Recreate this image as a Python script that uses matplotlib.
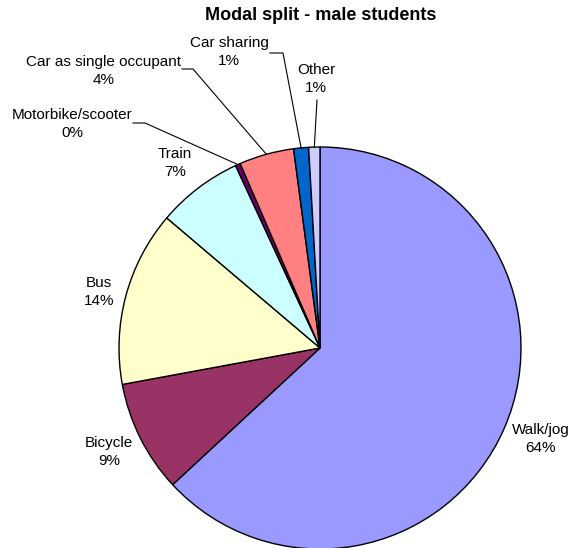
import numpy as np
import matplotlib.pyplot as plt

plt.rcParams['font.family'] = ['Liberation Sans', 'DejaVu Sans']

modes = ['Walk/jog', 'Bicycle', 'Bus', 'Train', 'Motorbike/scooter',
         'Car as single occupant', 'Car sharing', 'Other']
shares = [63.1, 9.0, 14.1, 6.9, 0.4, 4.4, 1.2, 0.9]
pct_labels = ['64%', '9%', '14%', '7%', '0%', '4%', '1%', '1%']
colors = ['#9999FF', '#993366', '#FFFFCC', '#CCFFFF', '#660066',
          '#FF8080', '#0066CC', '#CCCCFF']

W, H = 573, 548
fig = plt.figure(figsize=(W / 100, H / 100), dpi=100)
ax = fig.add_axes([0, 0, 1, 1])


def Y(py):
    return H - py


cx, cy, r = 320, Y(348), 201
wedges, _ = ax.pie(shares, colors=colors, startangle=90, counterclock=False,
                   center=(cx, cy), radius=r, frame=True,
                   wedgeprops=dict(edgecolor='black', linewidth=1.0))
ax.set_xlim(0, W)
ax.set_ylim(0, H)
ax.set_aspect('equal')
ax.axis('off')

# label positions (px from top-left) and leader elbows
label_pos = [(541, 439), (109, 452), (99, 292), (175, 163), (72, 124),
             (104, 71), (229, 52), (316, 79)]
elbows = [None, None, None, None, [(133, 123), (145, 123)],
          [(182, 69), (193, 69)], [(270, 53), (283, 53)], [(317, 100)]]

for i, w in enumerate(wedges):
    lx, ly = label_pos[i]
    ax.text(lx, Y(ly), modes[i] + '\n' + pct_labels[i], ha='center', va='center',
            fontsize=11, linespacing=1.45)
    if elbows[i] is not None:
        mid = np.deg2rad((w.theta1 + w.theta2) / 2)
        ex, ey = cx + r * np.cos(mid), cy + r * np.sin(mid)
        xs = [p[0] for p in elbows[i]] + [ex]
        ys = [Y(p[1]) for p in elbows[i]] + [ey]
        ax.plot(xs, ys, color='black', linewidth=0.8)

ax.text(321, Y(16), 'Modal split - male students', ha='center', va='center',
        fontsize=13, fontweight='bold')

fig.savefig('out.png', dpi=100)
